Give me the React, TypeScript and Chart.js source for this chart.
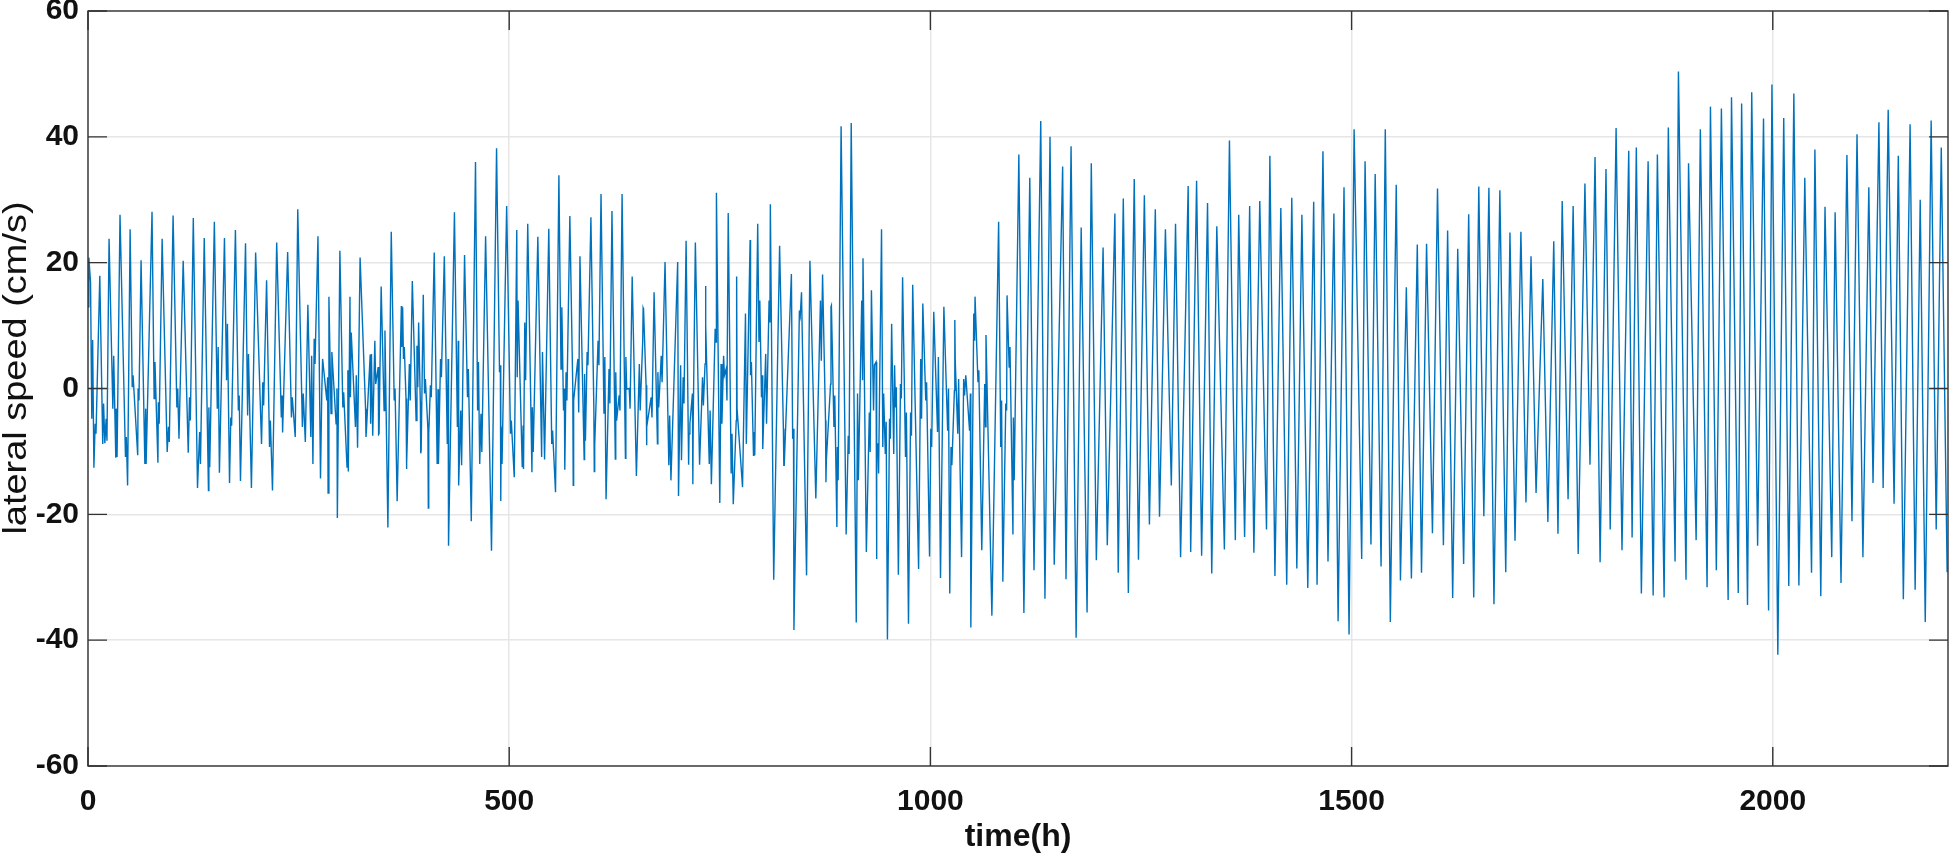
import React, { useEffect, useRef } from "react";
import Chart from "chart.js/auto";

const xTicks = [0, 500, 1000, 1500, 2000];
const yTicks = [-60, -40, -20, 0, 20, 40, 60];

// crest of each tidal cycle
const crestHours = [
    1, 3, 14, 25, 38, 50, 63, 76, 88, 101, 113, 125, 138, 150, 162, 175, 187, 199, 212, 224, 237, 249, 261, 273, 286, 299, 311, 323, 335, 348,
    360, 372, 385, 398, 411, 423, 435, 447, 460, 472, 485, 497, 509, 522, 534, 547, 559, 572, 584, 597, 609, 622, 634, 646, 659, 672, 685, 700, 710, 721,
    733, 746, 760, 770, 786, 795, 810, 821, 835, 847, 857, 872, 882, 894, 906, 920, 930, 942, 954, 967, 979, 991, 1004, 1016, 1029, 1042, 1053, 1066, 1081, 1091,
    1105, 1118, 1131, 1142, 1157, 1167, 1179, 1191, 1205, 1219, 1229, 1242, 1254, 1267, 1279, 1291, 1306, 1316, 1329, 1340, 1355, 1366, 1379, 1391, 1403, 1416, 1429, 1441, 1455, 1466,
    1479, 1491, 1503, 1516, 1528, 1540, 1553, 1565, 1578, 1589, 1602, 1614, 1626, 1639, 1651, 1663, 1676, 1688, 1701, 1713, 1727, 1740, 1750, 1763, 1777, 1789, 1802, 1814, 1829, 1838,
    1852, 1863, 1876, 1888, 1900, 1914, 1926, 1939, 1951, 1963, 1975, 1989, 1999, 2013, 2025, 2038, 2050, 2062, 2074, 2088, 2100, 2114, 2126, 2137, 2149, 2163, 2175, 2188, 2200,
];
const crestSpeeds = [
    20.8, 16.9, 17.9, 23.8, 27.6, 25.3, 20.4, 28.1, 23.8, 27.5, 20.3, 27.1, 23.9, 26.5, 23.9, 25.2, 23.1, 21.6, 17.2, 23.2, 21.7, 28.5, 13.3, 24.2, 14.6, 21.9, 14.6, 20.8, 5.4, 16.2,
    24.9, 13.1, 17.1, 14.9, 21.6, 21, 28, 21.2, 36, 24.2, 38.2, 29, 25.2, 26.2, 24.1, 25.4, 33.9, 27.4, 21, 27.2, 30.9, 28.2, 30.9, 17.8, 12.8, 15.3, 20.1, 20.1, 23.5, 23.2,
    16.3, 31.1, 27.9, 17.8, 23.6, 26.2, 29.3, 22.7, 18.2, 15.3, 20.3, 18.1, 13, 41.7, 42.2, 20.7, 15.6, 25.3, 10.3, 17.7, 16.5, 13.5, 12.2, 13, 10.9, 2.1, 14.6, 8.5, 26.5, 14.8,
    37.2, 33.5, 42.5, 40, 35.3, 38.5, 25.6, 35.8, 22.4, 27.8, 30.2, 33.3, 30.7, 28.5, 25.3, 26.2, 32.2, 33, 29.5, 25.8, 39.4, 27.6, 29, 29.8, 37, 28.7, 30.3, 27.6, 29.7, 37.7,
    27.8, 32, 41.2, 36.1, 34.1, 41.2, 32.4, 16.1, 22.9, 23, 31.8, 25.1, 22.2, 27.7, 32.1, 31.9, 31.5, 24.8, 24.9, 21, 17.4, 23.4, 29.8, 29, 32.6, 36.8, 34.9, 41.4, 37.8, 38.3,
    36.1, 37.2, 41.5, 50.4, 35.8, 41.2, 44.8, 44.5, 46.3, 45.3, 47.1, 42.9, 48.3, 43, 46.9, 33.5, 38, 28.9, 28, 37.1, 40.4, 32, 42.3, 44.3, 37, 42, 30, 42.6, 38.3,
];

// low point of each cycle
const troughHours = [
    7, 20, 33, 47, 59, 69, 83, 94, 108, 119, 130, 143, 156, 168, 181, 194, 206, 219, 231, 246, 258, 267, 276, 285, 296, 309, 320, 330, 338, 345,
    356, 367, 378, 395, 404, 416, 428, 440, 455, 465, 479, 490, 506, 517, 527, 542, 555, 566, 576, 589, 601, 615, 626, 638, 651, 663, 676, 692, 701, 713,
    718, 726, 740, 750, 766, 777, 790, 801, 814, 826, 838, 853, 864, 876, 889, 900, 912, 924, 936, 949, 962, 974, 986, 999, 1012, 1023, 1037, 1048, 1061, 1073,
    1086, 1098, 1111, 1123, 1136, 1147, 1161, 1173, 1186, 1197, 1210, 1223, 1235, 1247, 1260, 1272, 1286, 1297, 1309, 1322, 1334, 1349, 1362, 1373, 1384, 1399, 1409, 1423, 1435, 1448,
    1459, 1472, 1484, 1497, 1512, 1523, 1535, 1546, 1558, 1571, 1583, 1596, 1609, 1620, 1633, 1645, 1657, 1669, 1683, 1694, 1707, 1719, 1733, 1745, 1757, 1769, 1783, 1795, 1807, 1821,
    1833, 1844, 1858, 1871, 1884, 1897, 1909, 1922, 1933, 1947, 1959, 1970, 1982, 1995, 2006, 2019, 2031, 2046, 2057, 2070, 2081, 2094, 2107, 2119, 2131, 2144, 2155, 2169, 2181, 2194, 2207,
];
const troughSpeeds = [
    -12.6, -8.7, -11, -15.4, -10.6, -12, -11.8, -10.1, -8, -10.2, -15.8, -16.2, -13.4, -15, -14.7, -15.8, -8.8, -16.2, -7, -7.7, -8.5, -12, -14.3, -16.6, -20.6, -13.2, -9.4, -7.7, -7.5, -7.3,
    -22.1, -17.9, -12.8, -10.3, -19, -12, -25, -15.4, -21.1, -12, -25.8, -17.9, -14.1, -12.8, -13.3, -11.3, -16.5, -12.9, -15.4, -11.3, -13.2, -17.6, -11.2, -11.1, -13.9, -9, -8.8, -14.6, -17.1, -12.1,
    -15.2, -12.1, -15.2, -18.2, -18.4, -15.7, -10.6, -9.6, -30.4, -12.2, -38.4, -29.7, -17.5, -14.9, -22, -23.2, -37.2, -26, -27.1, -39.9, -29.6, -37.4, -28.7, -26.7, -30.1, -32.6, -26.8, -38, -25.7, -36.1,
    -30.7, -23.2, -35.7, -28.9, -33.4, -28, -30.3, -39.6, -35.6, -27.3, -24.9, -29.3, -32.5, -27.2, -21.6, -20.4, -15.4, -26.8, -26, -26.6, -29.4, -25.6, -24.1, -23.6, -26.1, -22.4, -29.8, -31.2, -28.6, -31.7,
    -31.2, -27.5, -37, -39.1, -27.1, -24.8, -28.3, -37.1, -30.5, -30.2, -29.3, -23, -24.9, -33.3, -27.9, -33.2, -20.3, -34.3, -29.2, -24.2, -18.1, -16.6, -21.2, -23.1, -17.6, -26.3, -12.1, -27.6, -22.4, -25.7,
    -23.7, -32.6, -32.9, -33.2, -27.5, -30.4, -24.1, -31.6, -28.9, -33.6, -32.5, -34.4, -25, -35.3, -42.3, -31.4, -31.3, -29.3, -33, -26.8, -30.9, -21.1, -26.8, -15, -15.8, -18.3, -33.5, -32, -37.1, -22.4, -29.2,
];

// short wiggles on the flanks in the calmer first half: hour, upper and lower value
const wiggleHours = [
    5, 9, 18, 22, 30, 34, 45, 53, 60, 68, 79, 84, 96, 106, 121, 133, 144, 154, 165, 170, 179, 190, 208, 216, 230, 242, 255, 265, 269, 278,
    284, 289, 295, 303, 308, 312, 318, 330, 336, 341, 345, 352, 364, 373, 375, 378, 382, 390, 392, 395, 400, 404, 407, 415, 419, 427, 439, 443, 451, 463,
    467, 489, 491, 502, 510, 516, 519, 528, 539, 551, 562, 565, 568, 576, 582, 590, 593, 601, 606, 613, 619, 627, 631, 639, 643, 655, 659, 663, 669, 677,
    681, 690, 704, 707, 714, 718, 730, 733, 738, 745, 752, 755, 758, 764, 770, 781, 787, 791, 797, 800, 805, 809, 826, 837, 845, 870, 876, 882, 886, 890,
    903, 914, 919, 928, 933, 936, 938, 944, 947, 952, 957, 959, 965, 971, 977, 989, 995, 1001, 1009, 1021, 1025, 1029, 1033, 1040, 1047, 1052, 1057, 1065, 1084, 1090,
    1094, 1099,
];
const wiggleHigh = [
    7.7, -5.6, -2.4, -4.8, 5.2, -3.2, -7.7, 2.1, 0, -3.2, 4.2, -2.2, -6.1, 0, -1.4, -6.9, -3, 6.6, 10.3, -4.6, -1.1, 5.5, 1, -5.1, -1.1, -1.4, -0.8, 5.2, 7.9, 4.7,
    1.8, 5.8, 0, -0.6, 2.9, 8.9, 2.1, -3.2, 5.5, 7.6, 3.4, 9.2, 0, 12.9, 6.6, -1.6, 3.9, 6.8, 10.5, -2.2, 1.5, -6.4, 0.5, -0.1, 4.7, 4.7, 7.6, -3.5, 3.1, 4.2,
    -4, 3.7, -6.1, -5.1, 14, -5.9, 10.5, -3, 5.8, -6.7, 12.9, 0, 2.6, 0, 4.7, 2.3, 5.8, -3.2, 7.6, 5, 3.1, 2.6, -1.1, 5, 0, 3.9, 12.6, 0.5, -1.4, 2.6,
    5.2, -4.3, 3.7, 1.8, -5.6, -0.8, 1.8, 10, -3.5, 9.5, 3.9, 5.2, 3.1, -7.2, -3.2, 11.9, 4.2, -6.9, 14, 2.1, 5.5, 14, -6.4, -6.4, 12.4, 14, -5.1, 13.2, -1.1, -9.3,
    -7.5, -0.8, 14, -3.8, 3.7, 4.2, -8.8, -0.8, -5.3, -4.8, 3.7, 0.2, 0.7, -3.8, -3.8, 4.7, 1, -6.4, 5, 0, -9.3, 4.4, 1.5, 1.5, -0.8, 11.9, 2.9, 0.7, -1.9, -2.4,
    6.6, -4.6,
];
const wiggleLow = [
    -4.8, -7.2, -8.8, -8.3, -3.2, -10.9, -10.9, 0.2, -1.9, -12, -1.6, -5.6, -8.5, -3, -5.1, -12, -12.5, -3.2, 1.3, -5.9, -3.5, -4.3, -2.7, -9.3, -4.6, -4.6, -6.1, -7.7, 3.9, -0.8,
    -1.9, -4, -5.6, -3, -12.5, -1.4, -6.1, -6.7, -5.6, 0.7, -7.2, -3.5, -1.9, 6.6, 4.7, -11.9, -1.9, -5.1, 0.2, -9.8, -0.8, -7.2, -1.4, -12, 1.8, -8.8, -6.1, -12.2, -1.4, -3.5,
    -10.1, 2.6, -12, -7.2, 1.8, -12.5, 1.3, -10.1, -10.9, -8.8, 3.1, -3.5, -1.9, -1.9, -3.8, -8.3, 3.7, -9, 3.7, -4, -2.4, -5.1, -3.5, -0.1, -3.2, -3.5, 7.6, -6.1, -4.6, -3,
    1, -12.2, -11.4, -2.4, -7.2, -4.6, -2.7, 3.9, -12, 7.4, -5.6, 2.1, -1.9, -13.5, -5.1, -8.8, 2.1, -10.6, 7.4, -1.4, -5.6, 10.5, -12.2, -8, 11.6, 4.4, -11.4, 0.7, -6.1, -14.6,
    -10.4, -14.6, 1.3, -10.1, -3.5, -8.8, -13.5, -9.3, -10.4, -8, -10.4, -3, -1.6, -10.9, -7.5, -4.8, -1.9, -9.3, -6.9, -6.7, -12.2, -0.3, -7.2, -1.1, -6.7, 7.6, 1, -6.1, -9.3, -3.5,
    3.4, -14.6,
];

const extremes = [
    ...crestHours.map((h, i) => ({ x: h, y: crestSpeeds[i] })),
    ...troughHours.map((h, i) => ({ x: h, y: troughSpeeds[i] })),
    { x: 0, y: 13 },
].sort((a, b) => a.x - b.x);

// a wiggle doubles back on its flank, so its order follows the direction of that flank
const wiggles = wiggleHours.flatMap((h, i) => {
    const next = extremes.findIndex((p) => p.x > h);
    const rising = next > 0 && extremes[next].y > extremes[next - 1].y;
    const first = rising ? wiggleHigh[i] : wiggleLow[i];
    const second = rising ? wiggleLow[i] : wiggleHigh[i];
    return [
        { x: h - 0.5, y: first },
        { x: h + 0.5, y: second },
    ];
});

const series = [...extremes, ...wiggles].sort((a, b) => a.x - b.x);

const font = '"Liberation Sans", Arial, sans-serif';

// matlab style inward ticks on all four sides, plus the y label that sits above centre
const frameTicks = {
    id: "frameTicks",
    afterDatasetsDraw(chart: any) {
        const { ctx, chartArea: a, scales } = chart;
        ctx.save();
        ctx.strokeStyle = "#333333";
        ctx.lineWidth = 1.4;
        ctx.beginPath();
        xTicks.forEach((v) => {
            const p = scales.x.getPixelForValue(v);
            ctx.moveTo(p, a.bottom);
            ctx.lineTo(p, a.bottom - 19);
            ctx.moveTo(p, a.top);
            ctx.lineTo(p, a.top + 19);
        });
        yTicks.forEach((v) => {
            const p = scales.y.getPixelForValue(v);
            ctx.moveTo(a.left, p);
            ctx.lineTo(a.left + 19, p);
            ctx.moveTo(a.right, p);
            ctx.lineTo(a.right - 19, p);
        });
        ctx.stroke();
        ctx.strokeRect(a.left, a.top, a.right - a.left, a.bottom - a.top);
        ctx.restore();

        ctx.save();
        ctx.translate(17, 368);
        ctx.rotate(-Math.PI / 2);
        ctx.scale(1.15, 1);
        ctx.fillStyle = "#111111";
        ctx.font = `33px ${font}`;
        ctx.textAlign = "center";
        ctx.textBaseline = "middle";
        ctx.fillText("lateral speed (cm/s)", 0, 0);
        ctx.restore();
    },
};

const App = () => {
    const chartRef = useRef<HTMLCanvasElement>(null);

    useEffect(() => {
        document.body.style.margin = "0";
        if (chartRef.current != null) {
            const chart = new Chart(chartRef.current, {
                type: "line",
                data: {
                    datasets: [
                        {
                            data: series,
                            borderColor: "#0072BD",
                            borderWidth: 1.4,
                            pointRadius: 0,
                            tension: 0,
                            fill: false,
                        },
                    ],
                },
                options: {
                    responsive: false,
                    animation: false,
                    layout: { padding: { top: 11, right: 1, left: 0, bottom: 0 } },
                    plugins: { legend: { display: false }, tooltip: { enabled: false } },
                    scales: {
                        x: {
                            type: "linear",
                            min: 0,
                            max: 2208,
                            afterFit: (s: any) => {
                                s.height = 87;
                                s.paddingLeft = 0;
                                s.paddingRight = 0;
                            },
                            afterBuildTicks: (s: any) => {
                                s.ticks = xTicks.map((value) => ({ value }));
                            },
                            ticks: {
                                maxRotation: 0,
                                padding: 18,
                                color: "#111111",
                                callback: (v: any) => String(v),
                                font: { family: font, size: 30, weight: "bold" },
                            },
                            grid: { color: "#e6e6e6", lineWidth: 1.5, drawTicks: false },
                            border: { display: false },
                            title: {
                                display: true,
                                text: "time(h)",
                                color: "#111111",
                                padding: { top: 8, bottom: -3 },
                                font: { family: font, size: 32, weight: "bold" },
                            },
                        },
                        y: {
                            min: -60,
                            max: 60,
                            afterFit: (s: any) => {
                                s.width = 88;
                                s.paddingTop = 0;
                                s.paddingBottom = 0;
                            },
                            afterBuildTicks: (s: any) => {
                                s.ticks = yTicks.map((value) => ({ value }));
                            },
                            ticks: {
                                padding: 9,
                                color: "#111111",
                                callback: (v: any) => String(v),
                                font: { family: font, size: 30, weight: "bold" },
                            },
                            grid: { color: "#e6e6e6", lineWidth: 1.5, drawTicks: false },
                            border: { display: false },
                        },
                    },
                },
                plugins: [frameTicks],
            });

            return () => {
                chart.destroy();
            };
        }
    }, []);

    return <canvas ref={chartRef} width={1949} height={853} style={{ display: "block" }} />;
};

export default App;
